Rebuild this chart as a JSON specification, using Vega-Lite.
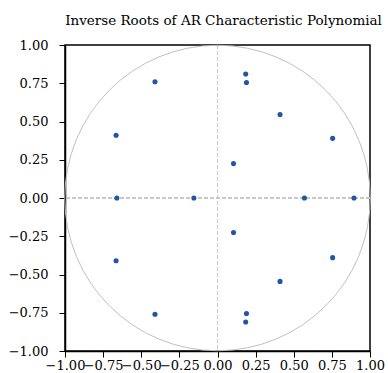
{
  "$schema": "https://vega.github.io/schema/vega-lite/v6.json",
  "autosize": "none",
  "width": 305,
  "height": 306,
  "padding": {"left": 65, "top": 45, "right": 18, "bottom": 22},
  "title": {"text": "Inverse Roots of AR Characteristic Polynomial", "font": "DejaVu Serif", "fontSize": 13.5, "fontWeight": "normal", "color": "#000", "offset": 12, "anchor": "middle", "dx": 6},
  "config": {
    "view": {"stroke": "#000", "strokeWidth": 1.5},
    "axis": {"grid": false, "labelFont": "DejaVu Serif", "labelFontSize": 13, "labelColor": "#000", "domainColor": "#000", "domainWidth": 1.5, "tickColor": "#000", "tickSize": 6, "title": null, "labelOverlap": false, "labelBound": false, "labelFlush": false, "tickCount": 20}
  },
  "data": {"values": [
    {"re": -0.41, "im": 0.76}, {"re": -0.41, "im": -0.76},
    {"re": 0.185, "im": 0.81}, {"re": 0.185, "im": -0.81},
    {"re": 0.19, "im": 0.755}, {"re": 0.19, "im": -0.755},
    {"re": 0.41, "im": 0.545}, {"re": 0.41, "im": -0.545},
    {"re": 0.755, "im": 0.39}, {"re": 0.755, "im": -0.39},
    {"re": 0.105, "im": 0.225}, {"re": 0.105, "im": -0.225},
    {"re": -0.665, "im": 0.41}, {"re": -0.665, "im": -0.41},
    {"re": -0.66, "im": 0}, {"re": -0.155, "im": 0},
    {"re": 0.57, "im": 0}, {"re": 0.895, "im": 0}
  ]},
  "layer": [
    {"mark": {"type": "rule", "stroke": "#c8c8c8", "strokeDash": [4, 2], "strokeWidth": 1}, "encoding": {"y": {"datum": 0, "type": "quantitative"}}},
    {"mark": {"type": "rule", "stroke": "#c8c8c8", "strokeDash": [4, 2], "strokeWidth": 1}, "encoding": {"x": {"datum": 0, "type": "quantitative"}}},
    {"data": {"values": [{"cx": 0, "cy": 0}]}, "mark": {"type": "point", "shape": "circle", "filled": false, "stroke": "#c0c0c0", "strokeWidth": 1, "size": 93330, "opacity": 1},
     "encoding": {"x": {"field": "cx", "type": "quantitative"}, "y": {"field": "cy", "type": "quantitative"}}},
    {"mark": {"type": "point", "filled": true, "color": "#2156a6", "size": 26, "opacity": 1},
     "encoding": {
       "x": {"field": "re", "type": "quantitative", "scale": {"domain": [-1, 1], "nice": false, "zero": false}, "axis": {"values": [-1, -0.75, -0.5, -0.25, 0, 0.25, 0.5, 0.75, 1], "format": ".2f", "labelPadding": 2, "tickCount": 20}},
       "y": {"field": "im", "type": "quantitative", "scale": {"domain": [-1, 1], "nice": false, "zero": false}, "axis": {"values": [-1, -0.75, -0.5, -0.25, 0, 0.25, 0.5, 0.75, 1], "format": ".2f", "labelPadding": 11, "tickCount": 20}}
     }}
  ]
}
